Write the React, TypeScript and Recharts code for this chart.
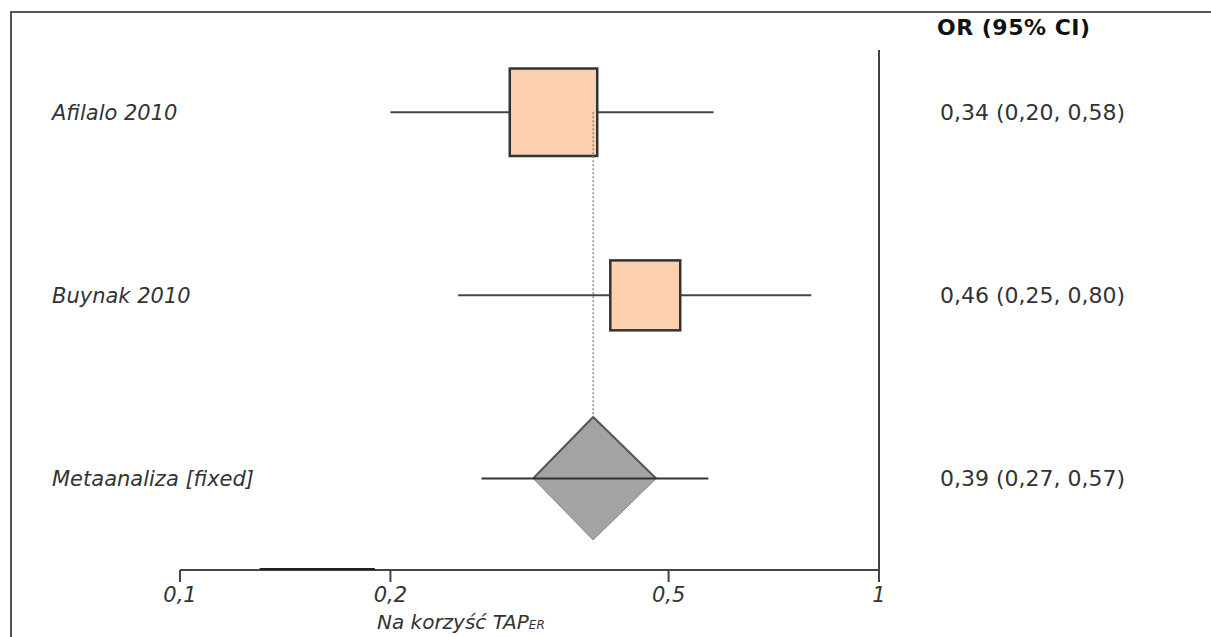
import React from "react";
import { ComposedChart, XAxis, YAxis, Line, Area, Scatter, ReferenceLine } from "recharts";

// individual studies (top to bottom)
const studyNames = ["Afilalo 2010", "Buynak 2010"];
const studyOR = [0.34, 0.46];
const studyLow = [0.2, 0.25];
const studyHigh = [0.58, 0.8];
const studyWeight = [61, 39];

// pooled estimate
const pooledName = "Metaanaliza [fixed]";
const pooledOR = 0.39;
const pooledLow = 0.27;
const pooledHigh = 0.57;
const diamondLow = 0.32;
const diamondHigh = 0.48;

const xTicks = [0.1, 0.2, 0.5, 1];

const W = 1211;
const H = 637;
const FONT = "'DejaVu Sans', Verdana, sans-serif";
const INK = "#333";
const DIAMOND_H = 0.336;

const rowNames = [...studyNames, pooledName];
const rowCount = rowNames.length;
const rowY = (i: number) => rowCount - i;

const fmt = (v: number) => v.toFixed(2).replace(".", ",");
const rowValues = [
  ...studyOR.map((o, i) => `${fmt(o)} (${fmt(studyLow[i])}, ${fmt(studyHigh[i])})`),
  `${fmt(pooledOR)} (${fmt(pooledLow)}, ${fmt(pooledHigh)})`,
];

const boxes = studyOR.map((o, i) => ({ x: o, y: rowY(i), w: studyWeight[i] }));
const pooledRow = rowY(rowCount - 1);

const diamondTop = [
  { x: diamondLow, y: pooledRow },
  { x: pooledOR, y: pooledRow + DIAMOND_H },
  { x: diamondHigh, y: pooledRow },
];
const diamondBottom = [
  { x: diamondLow, y: pooledRow },
  { x: pooledOR, y: pooledRow - DIAMOND_H },
  { x: diamondHigh, y: pooledRow },
];

const BoxShape = (props: any) => {
  const { cx, cy, payload } = props;
  const s = Math.sqrt(payload.w) * 11.2;
  return (
    <rect x={cx - s / 2 + 2} y={cy - s / 2} width={s} height={s} fill="#fdd0b0" stroke={INK} strokeWidth={2.5} />
  );
};

const LeftTick = (props: any) => {
  const { x, y, payload } = props;
  const name = rowNames[rowCount - payload.value];
  return (
    <text x={x - 128} y={y} dy="0.36em" textAnchor="start" fill={INK} fontSize={21} fontStyle="italic" fontFamily={FONT}>
      {name}
    </text>
  );
};

const RightTick = (props: any) => {
  const { x, y, payload } = props;
  const v = rowValues[rowCount - payload.value];
  return (
    <text x={x + 61} y={y} dy="0.36em" textAnchor="start" fill={INK} fontSize={22} fontFamily={FONT}>
      {v}
    </text>
  );
};

export default function App() {
  const yDomain = [0.5, 3.34];
  const yTicks = rowNames.map((_, i) => rowY(i));
  return (
    <div style={{ position: "absolute", left: 0, top: 0, width: W, height: H, overflow: "hidden", background: "#fff", fontFamily: FONT }}>
      <div
        style={{
          position: "absolute",
          left: 10,
          top: 11,
          width: W + 50,
          height: H + 50,
          borderTop: "2px solid #555",
          borderLeft: "2px solid #555",
        }}
      />
      <div style={{ position: "absolute", left: 937, top: 15, fontSize: 22, fontWeight: "bold", color: "#111", whiteSpace: "nowrap", letterSpacing: 0.5 }}>
        OR (95% CI)
      </div>
      <div style={{ position: "absolute", left: 377, top: 610, fontSize: 20, fontStyle: "italic", color: INK, whiteSpace: "nowrap" }}>
        Na korzyść TAP<span style={{ fontSize: 12 }}>ER</span>
      </div>
      <div style={{ position: "absolute", left: 0, top: 0 }}>
        <ComposedChart width={W} height={H} margin={{ top: 50, right: 0, bottom: 27, left: 0 }}>
          <XAxis
            dataKey="x"
            type="number"
            scale="log"
            domain={[0.1, 1]}
            ticks={xTicks}
            allowDataOverflow
            height={40}
            tickSize={12}
            tickMargin={5}
            tickFormatter={(v: number) => String(v).replace(".", ",")}
            axisLine={{ stroke: "#444", strokeWidth: 2 }}
            tickLine={{ stroke: "#444", strokeWidth: 2 }}
            tick={{ fill: INK, fontSize: 21, fontStyle: "italic", fontFamily: FONT }}
          />
          <YAxis
            yAxisId="left"
            dataKey="y"
            type="number"
            domain={yDomain}
            ticks={yTicks}
            allowDataOverflow
            width={180}
            axisLine={false}
            tickLine={false}
            tickSize={0}
            tickMargin={0}
            tick={<LeftTick />}
          />
          <YAxis
            yAxisId="right"
            orientation="right"
            dataKey="y"
            type="number"
            domain={yDomain}
            ticks={yTicks}
            allowDataOverflow
            width={332}
            axisLine={false}
            tickLine={false}
            tickSize={0}
            tickMargin={0}
            tick={<RightTick />}
          />
          <ReferenceLine yAxisId="left" x={1} stroke="#444" strokeWidth={2} />
          <Line
            yAxisId="left"
            data={[{ x: 0.13, y: 0.5 }, { x: 0.19, y: 0.5 }]}
            dataKey="y"
            stroke="#222"
            strokeWidth={4}
            dot={false}
            zIndex={800}
            isAnimationActive={false}
          />
          {studyOR.map((_, i) => (
            <Line
              key={"ci" + i}
              yAxisId="left"
              data={[{ x: studyLow[i], y: rowY(i) }, { x: studyHigh[i], y: rowY(i) }]}
              dataKey="y"
              stroke="#444"
              strokeWidth={2}
              dot={false}
              isAnimationActive={false}
            />
          ))}
          <Scatter yAxisId="left" data={boxes} dataKey="y" shape={<BoxShape />} isAnimationActive={false} />
          <Area
            yAxisId="left"
            type="linear"
            data={diamondTop}
            dataKey="y"
            baseValue={pooledRow}
            fill="#a3a3a3"
            fillOpacity={1}
            stroke="#555"
            strokeWidth={2}
            isAnimationActive={false}
          />
          <Area
            yAxisId="left"
            type="linear"
            data={diamondBottom}
            dataKey="y"
            baseValue={pooledRow}
            fill="#a3a3a3"
            fillOpacity={1}
            stroke="#888"
            strokeWidth={1}
            isAnimationActive={false}
          />
          <Line
            yAxisId="left"
            data={[{ x: pooledOR, y: rowY(0) }, { x: pooledOR, y: pooledRow + DIAMOND_H }]}
            dataKey="y"
            stroke="#888"
            strokeWidth={1.5}
            strokeDasharray="2 2"
            dot={false}
            zIndex={700}
            isAnimationActive={false}
          />
          <Line
            yAxisId="left"
            data={[{ x: pooledLow, y: pooledRow }, { x: pooledHigh, y: pooledRow }]}
            dataKey="y"
            stroke="#333"
            strokeWidth={2}
            dot={false}
            isAnimationActive={false}
          />
        </ComposedChart>
      </div>
    </div>
  );
}
